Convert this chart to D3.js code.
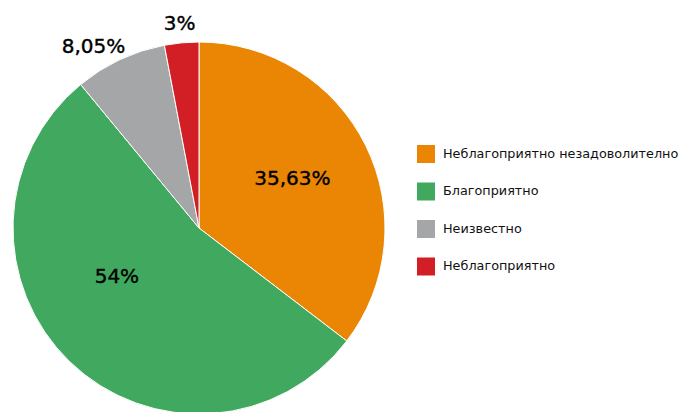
<!DOCTYPE html>
<html>
  <head>
    <meta charset="UTF-8">
    <script src="https://d3js.org/d3.v7.min.js"></script>
    <style>
      body { margin: 0; background: #fff; }
      text { font-family: "DejaVu Sans", sans-serif; fill: #111; }
      text.lbl { fill: #000; stroke: #000; stroke-width: 0.4px; }
    </style>
  </head>
  <body>
    <svg id="pie" width="681" height="412"></svg>
    <script>
      const categories = ["Неблагоприятно незадоволително", "Благоприятно", "Неизвестно", "Неблагоприятно"];
      const values = [35.63, 54, 8.05, 3];
      const labels = ["35,63%", "54%", "8,05%", "3%"];
      const colors = ["#eb8605", "#41a95f", "#a5a6a8", "#d21f26"];

      // label placement: radius factor and angle shift (deg) per slice
      const labelLayout = [[0.57, -2], [0.51, 16], [1.13, -5], [1.11, 0]];

      const data = categories.map((c, i) => ({name: c, value: values[i], label: labels[i], color: colors[i]}));

      const svg = d3.select("svg#pie");
      const cx = 199, cy = 228, radius = 186;

      const g = svg.append("g").attr("transform", "translate(" + cx + "," + cy + ")");

      const pie = d3.pie().value(d => d.value).sort(null);
      const arc = d3.arc().innerRadius(0).outerRadius(radius);
      const arcs = pie(data);

      g.selectAll("path").data(arcs)
        .enter().append("path")
        .attr("d", arc)
        .attr("fill", d => d.data.color)
        .attr("stroke", "#fff")
        .attr("stroke-width", 1);

      g.selectAll("text.lbl").data(arcs)
        .enter().append("text")
        .attr("class", "lbl")
        .attr("transform", (d, i) => {
          const a = (d.startAngle + d.endAngle) / 2 + labelLayout[i][1] * Math.PI / 180;
          const r = radius * labelLayout[i][0];
          return "translate(" + (r * Math.sin(a)) + "," + (-r * Math.cos(a)) + ")";
        })
        .attr("text-anchor", "middle")
        .attr("dy", "0.36em")
        .attr("font-size", 20)
        .text(d => d.data.label);

      const legend = svg.append("g").attr("transform", "translate(417,145)");
      const item = legend.selectAll("g").data(data)
        .enter().append("g")
        .attr("transform", (d, i) => "translate(0," + (i * 37.5) + ")");
      item.append("rect")
        .attr("width", 18).attr("height", 18)
        .attr("fill", d => d.color);
      item.append("text")
        .attr("x", 26).attr("y", 8.5).attr("dy", "0.35em")
        .attr("font-size", 12.8)
        .text(d => d.name);
    </script>
  </body>
</html>
